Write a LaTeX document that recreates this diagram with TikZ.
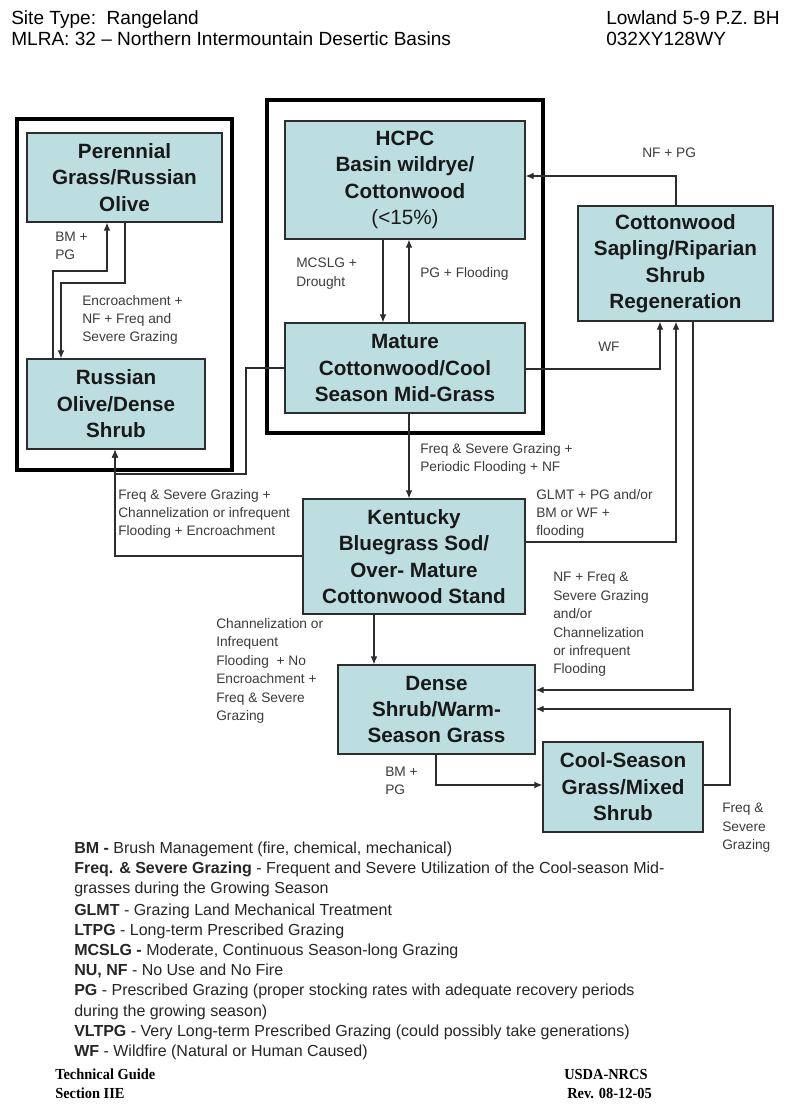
\documentclass[tikz,border=0pt]{standalone}
\usepackage{fontspec}
\setmainfont{Liberation Sans}
\newfontfamily\footfont[FakeStretch=0.94]{Liberation Serif}
\usetikzlibrary{arrows.meta}
\definecolor{boxfill}{RGB}{188,222,225}
\definecolor{linecol}{RGB}{45,45,45}
\definecolor{labcol}{RGB}{60,60,60}
\def\px{0.75pt}
\tikzset{
  box/.style={draw=linecol, line width=0.9pt, fill=boxfill, inner sep=0pt, align=center,
    text=black!90, font=\fontsize{15.5}{19.8}\selectfont\bfseries},
  frame/.style={draw=black, line width=3pt},
  arr/.style={draw=linecol, line width=0.9pt, -{Latex[length=6pt,width=5pt]}},
  lab/.style={inner sep=0pt, anchor=west, align=left, text=labcol, font=\fontsize{10.3}{13.8}\selectfont},
  leg/.style={inner sep=0pt, anchor=base west, text=black!85, font=\fontsize{12}{15}\selectfont},
  head/.style={inner sep=0pt, anchor=base west, text=black, font=\fontsize{14.3}{16}\selectfont},
  foot/.style={inner sep=0pt, anchor=base west, text=black, font=\footfont\bfseries\fontsize{11.5}{14}\selectfont},
}
\begin{document}
\begin{tikzpicture}[x=0.75pt, y=-0.75pt]
\useasboundingbox (0,0) rectangle (800,1108);
\fill[white] (0,0) rectangle (800,1108);

% header
\node[head] (h1) at (11,24) {Site Type:\ \ Rangeland};
\node[head] (h2) at (11,45) {MLRA: 32 – Northern Intermountain Desertic Basins};
\node[head] (h3) at (606,24) {Lowland 5-9 P.Z. BH};
\node[head] (h4) at (606,45) {032XY128WY};

% frames
\draw[frame] (17,119) rectangle (232,470);
\draw[frame] (267,100) rectangle (543,433);

% boxes
\node[box, minimum width=195*\px, minimum height=89*\px] (per) at (124.5,177.5) {Perennial\\Grass/Russian\\Olive};
\node[box, minimum width=178*\px, minimum height=90*\px] (rus) at (116,404) {Russian\\Olive/Dense\\Shrub};
\node[box, minimum width=240*\px, minimum height=118*\px] (hcpc) at (405,180) {HCPC\\Basin wildrye/\\Cottonwood\\{\mdseries(<15\%)}};
\node[box, minimum width=240*\px, minimum height=90*\px] (mat) at (405,368) {Mature\\Cottonwood/Cool\\Season Mid-Grass};
\node[box, minimum width=195*\px, minimum height=115*\px] (cot) at (675.5,263.5) {Cottonwood\\Sapling/Riparian\\Shrub\\Regeneration};
\node[box, minimum width=222*\px, minimum height=115*\px] (ken) at (414,556.5) {Kentucky\\Bluegrass Sod/\\Over- Mature\\Cottonwood Stand};
\node[box, minimum width=197*\px, minimum height=89*\px] (den) at (436.5,709.5) {Dense\\Shrub/Warm-\\Season Grass};
\node[box, minimum width=160*\px, minimum height=90*\px] (cool) at (623,787) {Cool-Season\\Grass/Mixed\\Shrub};

% bend points
\coordinate (k1) at (53,271);  \coordinate (k2) at (107,271);
\coordinate (k3) at (125,283); \coordinate (k4) at (61,283);
\coordinate (k5) at (383,0);   \coordinate (k6) at (409,0);
\coordinate (k7) at (676,176); \coordinate (k8) at (660,369);
\coordinate (k9) at (246,368); \coordinate (k10) at (246,474); \coordinate (k11) at (115,474);
\coordinate (k12) at (115,556);
\coordinate (k13) at (676,542); \coordinate (k14) at (693,690);
\coordinate (k15) at (374,0);  \coordinate (k16) at (436,785);
\coordinate (k17) at (730,785); \coordinate (k18) at (730,709);

% connectors
\draw[arr] (k1 |- rus.north) -- (k1) -- (k2) -- (k2 |- per.south);
\draw[arr] (k3 |- per.south) -- (k3) -- (k4) -- (k4 |- rus.north);
\draw[arr] (k5 |- hcpc.south) -- (k5 |- mat.north);
\draw[arr] (k6 |- mat.north) -- (k6 |- hcpc.south);
\draw[arr] (k7 |- cot.north) -- (k7) -- (k7 -| hcpc.east);
\draw[arr] (k8 -| mat.east) -- (k8) -- (k8 |- cot.south);
\draw[arr] (k9 -| mat.west) -- (k9) -- (k10) -- (k11) -- (k11 |- rus.south);
\draw[arr] (k12 -| ken.west) -- (k12) -- (k12 |- rus.south);
\draw[arr] (k6 |- mat.south) -- (k6 |- ken.north);
\draw[arr] (k13 -| ken.east) -- (k13) -- (k13 |- cot.south);
\draw[arr] (k14 |- cot.south) -- (k14) -- (k14 -| den.east);
\draw[arr] (k15 |- ken.south) -- (k15 |- den.north);
\draw[arr] (k16 |- den.south) -- (k16) -- (k16 -| cool.west);
\draw[arr] (k17 -| cool.east) -- (k17) -- (k18) -- (k18 -| den.east);

% connector labels
\node[lab] (l1) at (55,246) {BM +\\PG};
\node[lab] (l2) at (82,320) {Encroachment +\\NF + Freq and\\Severe Grazing};
\node[lab] (l3) at (296,273.5) {MCSLG +\\Drought};
\node[lab] (l4) at (420,274) {PG + Flooding};
\node[lab] (l5) at (642,153) {NF + PG};
\node[lab] (l6) at (598,347) {WF};
\node[lab] (l7) at (420,459) {Freq \& Severe Grazing +\\Periodic Flooding + NF};
\node[lab] (l8) at (118,514) {Freq \& Severe Grazing +\\Channelization or infrequent\\Flooding + Encroachment};
\node[lab] (l9) at (536,514) {GLMT + PG and/or\\BM or WF +\\flooding};
\node[lab] (l10) at (553,624.5) {NF + Freq \&\\Severe Grazing\\and/or\\Channelization\\or infrequent\\Flooding};
\node[lab] (l11) at (216,671) {Channelization or\\Infrequent\\Flooding\ \ + No\\Encroachment +\\Freq \& Severe\\Grazing};
\node[lab] (l12) at (385,781) {BM +\\PG};
\node[lab] (l13) at (722,828) {Freq \&\\Severe\\Grazing};

% legend
\node[leg] (g1) at (74,853) {\textbf{BM -} Brush Management (fire, chemical, mechanical)};
\node[leg] (g2) at (74,873) {\textbf{Freq. \& Severe Grazing} - Frequent and Severe Utilization of the Cool-season Mid-};
\node[leg] (g3) at (74,893) {grasses during the Growing Season};
\node[leg] (g4) at (74,915) {\textbf{GLMT} - Grazing Land Mechanical Treatment};
\node[leg] (g5) at (74,935) {\textbf{LTPG} - Long-term Prescribed Grazing};
\node[leg] (g6) at (74,955) {\textbf{MCSLG -} Moderate, Continuous Season-long Grazing};
\node[leg] (g7) at (74,975) {\textbf{NU, NF} - No Use and No Fire};
\node[leg] (g8) at (74,995) {\textbf{PG} - Prescribed Grazing (proper stocking rates with adequate recovery periods};
\node[leg] (g9) at (74,1016) {during the growing season)};
\node[leg] (g10) at (74,1036) {\textbf{VLTPG} - Very Long-term Prescribed Grazing (could possibly take generations)};
\node[leg] (g11) at (74,1056) {\textbf{WF} - Wildfire (Natural or Human Caused)};

% footer
\node[foot] (f1) at (55,1079) {Technical Guide};
\node[foot] (f2) at (55,1098) {Section IIE};
\node[foot] (f3) at (564,1079) {USDA-NRCS};
\node[foot] (f4) at (567,1098) {Rev. 08-12-05};
\end{tikzpicture}
\end{document}
